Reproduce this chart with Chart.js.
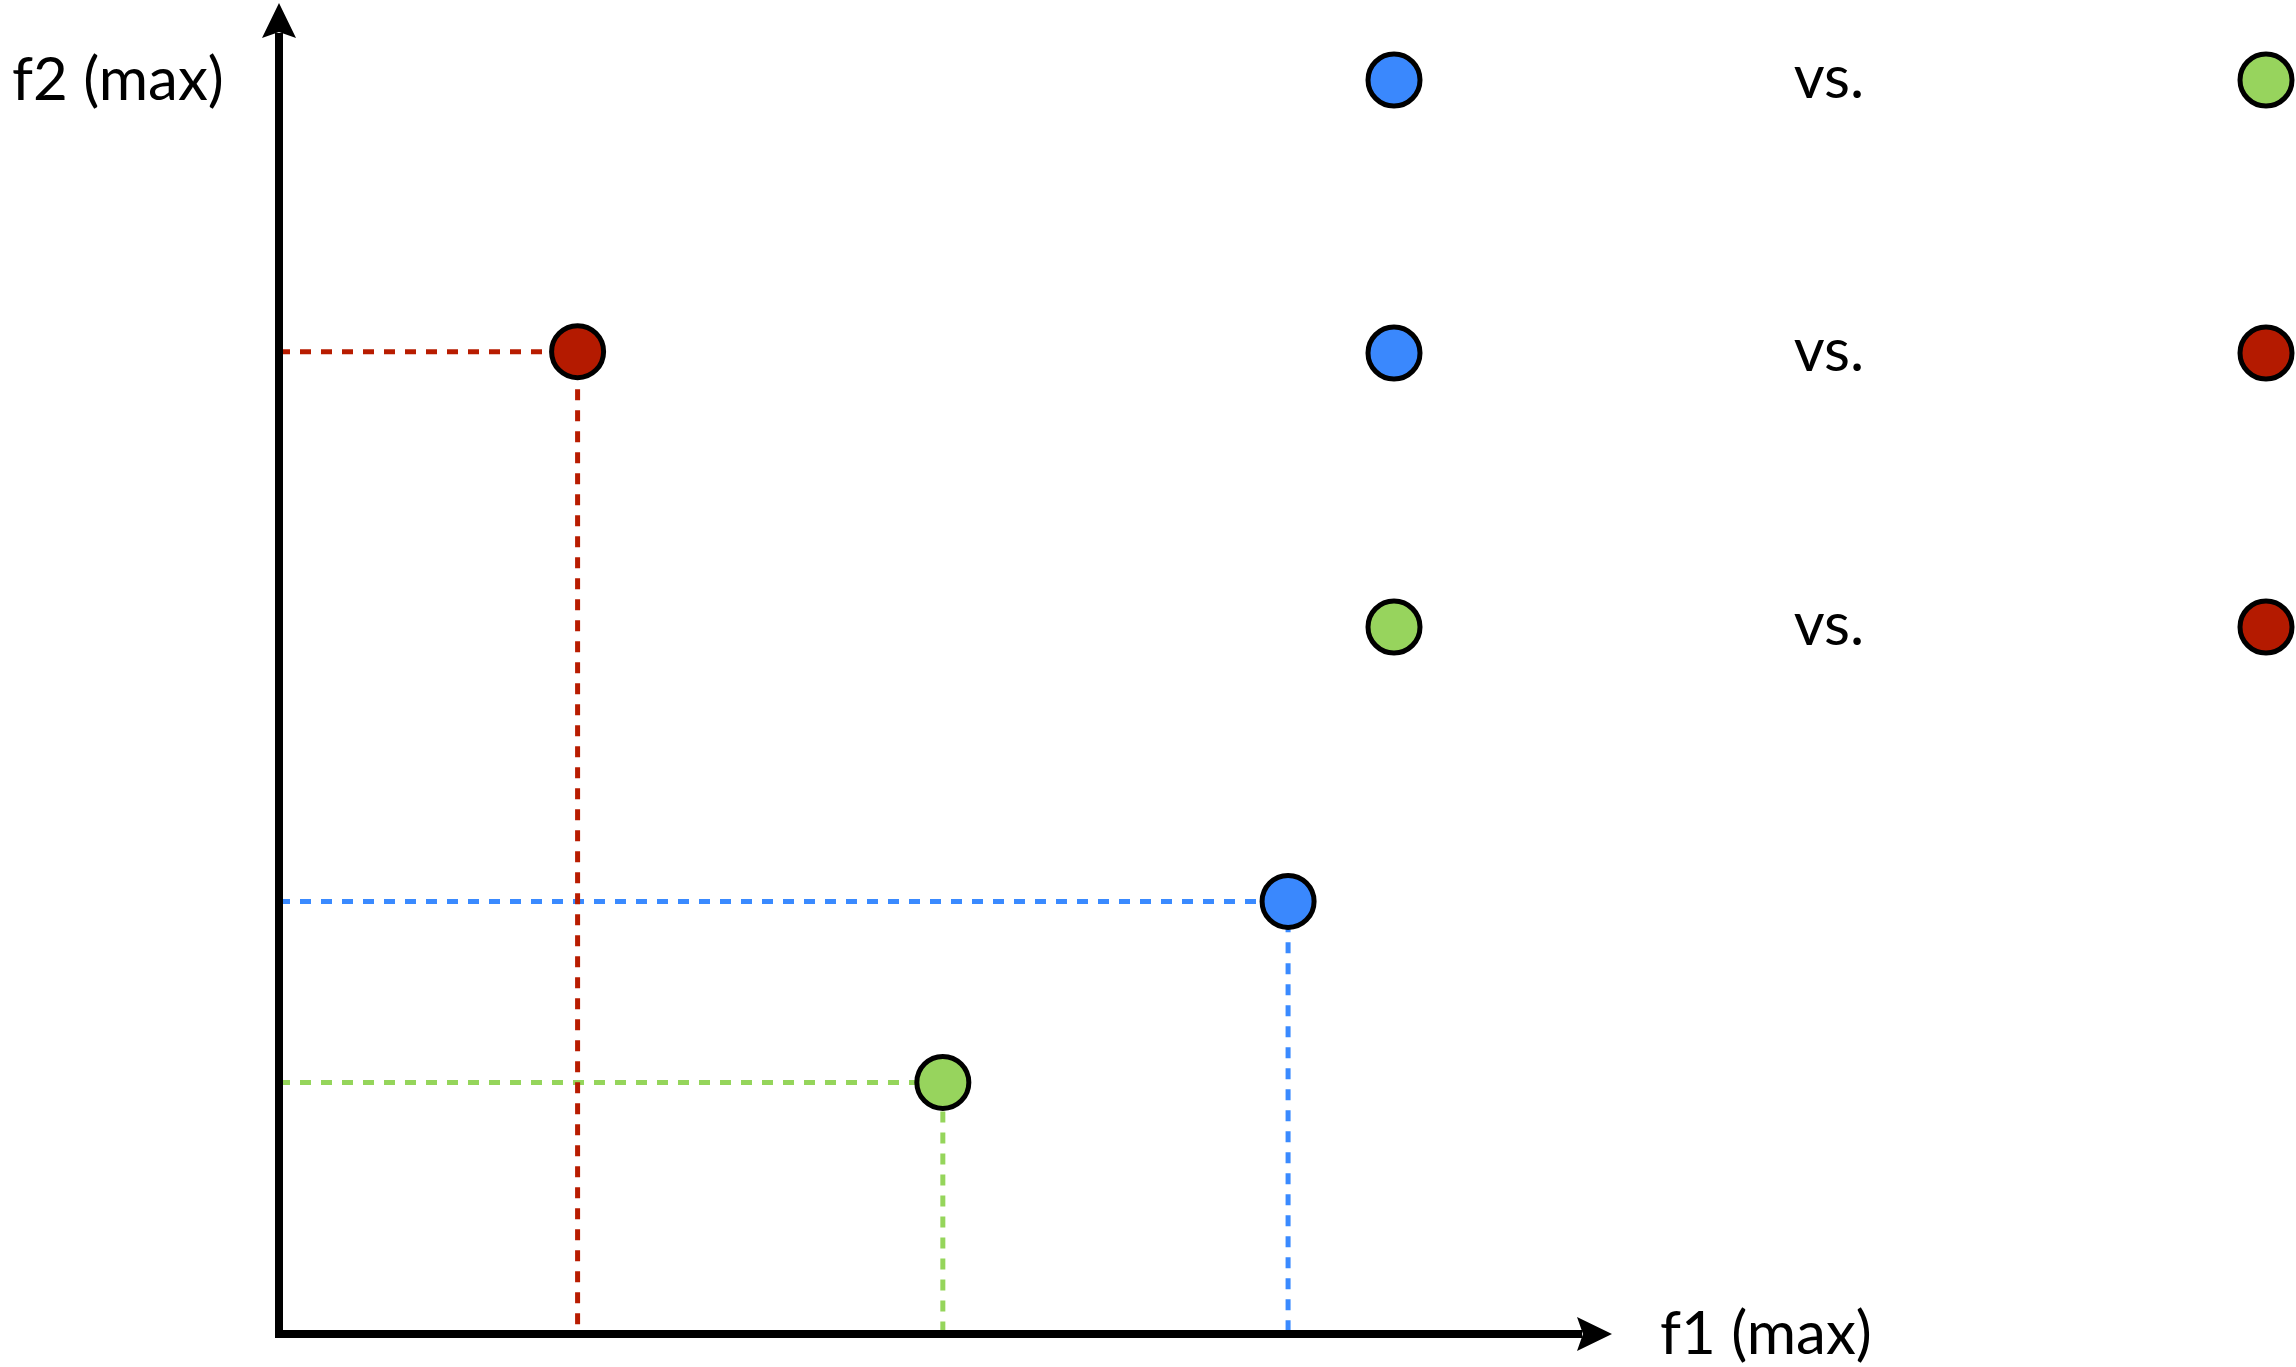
<!DOCTYPE html>
<html>
<head>
<meta charset="utf-8">
<script src="https://cdn.jsdelivr.net/npm/chart.js@4.4.0/dist/chart.umd.min.js"></script>
<style>
  html, body { margin: 0; padding: 0; background: #fff; }
  #wrap { width: 2296px; height: 1367px; position: relative; }
</style>
</head>
<body>
<div id="wrap"><canvas id="pareto"></canvas></div>
<script>
// 三个解在两个目标 f1 / f2 上的取值
const solutionNames = ['red', 'green', 'blue'];
const f1Values = [2.24, 4.98, 7.57];
const f2Values = [7.38, 1.89, 3.25];
// 右侧两两比较
const comparePairs = [['blue', 'green'], ['blue', 'red'], ['green', 'red']];
const axisTitles = ['f1 (max)', 'f2 (max)'];
const compareWord = 'vs.';
const f1Range = [0, 10];
const f2Range = [0, 10];

const palette = { red: '#b41a00', green: '#97d45d', blue: '#3a88fd' };
const lineColors = { red: '#b81c00', green: '#95d55b', blue: '#3a8aff' };
const FONT = '60px Lato';

// 每个解画成一条折线：y轴 -> 点 -> x轴，只在拐点画圆
const datasets = solutionNames.map((name, i) => ({
    label: name,
    data: [
        { x: f1Range[0], y: f2Values[i] },
        { x: f1Values[i], y: f2Values[i] },
        { x: f1Values[i], y: f2Range[0] }
    ],
    showLine: true,
    borderColor: lineColors[name],
    borderWidth: 5,
    borderDash: [11, 10],
    pointRadius: [0, 26, 0],
    pointBorderWidth: 5,
    pointBackgroundColor: palette[name],
    pointBorderColor: '#000',
    clip: false
}));

function arrowHead(ctx, tx, ty, dx, dy) {
    const L = 35, W = 17, N = 6;
    const nx = -dy, ny = dx;
    ctx.beginPath();
    ctx.moveTo(tx, ty);
    ctx.lineTo(tx - L * dx + W * nx, ty - L * dy + W * ny);
    ctx.lineTo(tx - (L - N) * dx, ty - (L - N) * dy);
    ctx.lineTo(tx - L * dx - W * nx, ty - L * dy - W * ny);
    ctx.closePath();
    ctx.fill();
}

function circle(ctx, cx, cy, color) {
    ctx.beginPath();
    ctx.arc(cx, cy, 26, 0, Math.PI * 2);
    ctx.fillStyle = color;
    ctx.fill();
    ctx.lineWidth = 5;
    ctx.strokeStyle = '#000';
    ctx.stroke();
}

// 坐标轴、箭头、轴标题和右侧比较图例
const axesPlugin = {
    id: 'arrowAxes',
    afterDatasetsDraw(chart) {
        const { ctx, scales: { x, y } } = chart;
        const x0 = x.getPixelForValue(f1Range[0]);
        const y0 = y.getPixelForValue(f2Range[0]);
        const xEnd = x.getPixelForValue(f1Range[1]);
        const yEnd = y.getPixelForValue(f2Range[1]);
        ctx.save();
        ctx.strokeStyle = '#000';
        ctx.fillStyle = '#000';
        ctx.lineWidth = 8;
        ctx.beginPath();
        ctx.moveTo(x0, y0 + 4);
        ctx.lineTo(x0, yEnd + 30);
        ctx.moveTo(x0 - 4, y0);
        ctx.lineTo(xEnd - 30, y0);
        ctx.stroke();
        arrowHead(ctx, x0, yEnd, 0, -1);
        arrowHead(ctx, xEnd, y0, 1, 0);

        ctx.font = FONT;
        ctx.textBaseline = 'alphabetic';
        ctx.textAlign = 'left';
        ctx.fillText(axisTitles[1], 12, 100);
        ctx.fillText(axisTitles[0], xEnd + 48, y0 + 20);

        const rowY = [80, 353, 627];
        comparePairs.forEach((pair, i) => {
            circle(ctx, 1394, rowY[i], palette[pair[0]]);
            circle(ctx, 2266, rowY[i], palette[pair[1]]);
            ctx.fillStyle = '#000';
            ctx.textAlign = 'center';
            ctx.fillText(compareWord, 1829, rowY[i] + 18);
        });
        ctx.restore();
    }
};

function draw() {
    new Chart(document.getElementById('pareto'), {
        type: 'scatter',
        data: { datasets },
        options: {
            responsive: true,
            maintainAspectRatio: false,
            animation: false,
            layout: { padding: { left: 279, right: 684, top: 3, bottom: 33 } },
            scales: {
                x: { type: 'linear', min: f1Range[0], max: f1Range[1], display: false },
                y: { type: 'linear', min: f2Range[0], max: f2Range[1], display: false }
            },
            plugins: { legend: { display: false }, tooltip: { enabled: false } }
        },
        plugins: [axesPlugin]
    });
}

document.fonts.load(FONT).then(draw, draw);
</script>
</body>
</html>
